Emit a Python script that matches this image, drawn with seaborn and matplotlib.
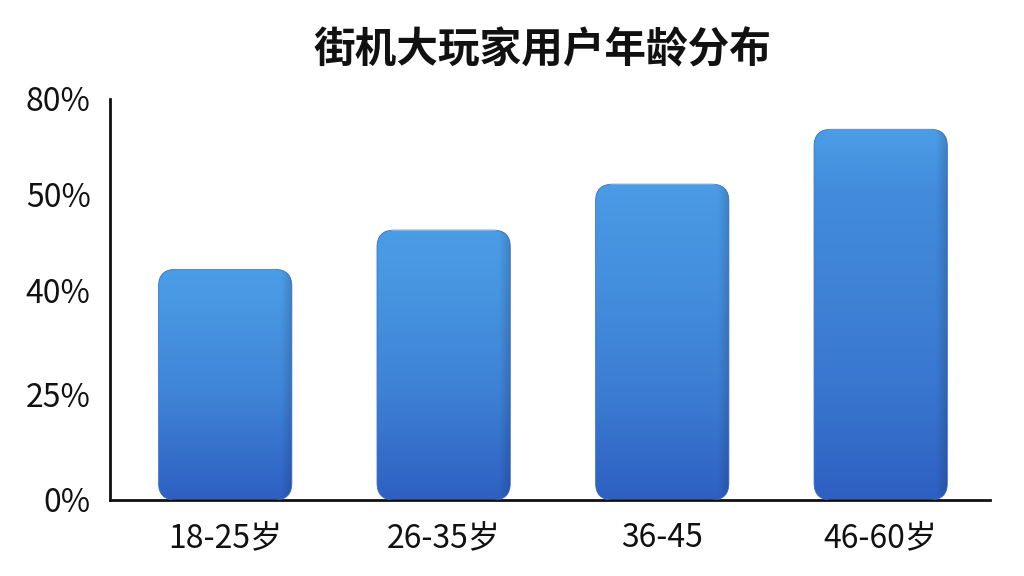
import numpy as np
import pandas as pd
import matplotlib
matplotlib.use("Agg")
import matplotlib.pyplot as plt
import seaborn as sns
from matplotlib.patches import FancyBboxPatch
from matplotlib.transforms import IdentityTransform
from matplotlib.colors import to_rgb

# data
age_groups = ["18-25岁", "26-35岁", "36-45", "46-60岁"]
share_pct = [42.2, 46.3, 53.3, 70.5]

# the y axis in the source is not linear: ticks are placed at these spots
tick_values = [0, 25, 40, 50, 80]
tick_labels = ["0%", "25%", "40%", "50%", "80%"]
tick_spots = [0, 105, 208, 303, 398]


def forward(v):
    return np.interp(v, tick_values, tick_spots, left=None, right=None)


def inverse(p):
    return np.interp(p, tick_spots, tick_values)


sns.set_theme(style="white")
plt.rcParams["font.family"] = ["Noto Sans CJK SC", "DejaVu Sans"]

df = pd.DataFrame({"age": age_groups, "share": share_pct})

fig = plt.figure(figsize=(10.24, 5.76), dpi=100)
fig.patch.set_facecolor("white")
ax = fig.add_axes([110 / 1024, 76 / 576, 880 / 1024, 401 / 576])

sns.barplot(data=df, x="age", y="share", color="#3b7fd6", width=0.61, ax=ax)

ax.set_yscale("function", functions=(forward, inverse))
ax.set_ylim(0, 81.2)
ax.set_xlim(-0.527, 3.5)

# swap each flat bar for a rounded one with a vertical gradient
top_rgb = np.array(to_rgb("#4b9de6"))
bot_rgb = np.array(to_rgb("#2e60c2"))
for bar in list(ax.patches):
    x0, w, h = bar.get_x(), bar.get_width(), bar.get_height()
    bar.set_visible(False)
    (px0, py0) = ax.transData.transform((x0, 0))
    (px1, py1) = ax.transData.transform((x0 + w, h))
    r = 17
    rounded = FancyBboxPatch((px0 + r, py0 + r), (px1 - px0) - 2 * r, (py1 - py0) - 2 * r,
                             boxstyle=f"round,pad={r},rounding_size={r}",
                             transform=IdentityTransform(), facecolor="none",
                             edgecolor="#3669c6", linewidth=0.6, zorder=3)
    ax.add_artist(rounded)

    t = np.linspace(1, 0, 200)[:, None]
    grad = bot_rgb + (top_rgb - bot_rgb) * t[..., None]
    grad = np.repeat(grad, 60, axis=1)
    cols = np.linspace(0, 1, 60)
    shade = 1 - 0.15 * np.clip((cols - 0.92) / 0.08, 0, 1)
    grad = grad * shade[None, :, None]
    img = ax.imshow(grad, extent=(x0, x0 + w, 0, h), aspect="auto",
                    interpolation="bilinear", zorder=2)
    img.set_clip_path(rounded)

ax.set_xlim(-0.527, 3.5)
ax.set_ylim(0, 81.2)

ax.set_yticks(tick_values)
ax.set_yticklabels(tick_labels)
ax.minorticks_off()
ax.tick_params(axis="y", length=0, pad=14, labelsize=23, labelcolor="#111111")
ax.tick_params(axis="x", length=0, pad=16, labelsize=23, labelcolor="#111111")
ax.set_xlabel("")
ax.set_ylabel("")

for side in ["top", "right"]:
    ax.spines[side].set_visible(False)
for side in ["left", "bottom"]:
    ax.spines[side].set_color("#111111")
    ax.spines[side].set_linewidth(2)

fig.text(0.53, 0.912, "街机大玩家用户年龄分布", ha="center", va="center",
         fontsize=30, fontweight="bold", color="#111111")

fig.savefig("out.png", dpi=100, facecolor="white")
